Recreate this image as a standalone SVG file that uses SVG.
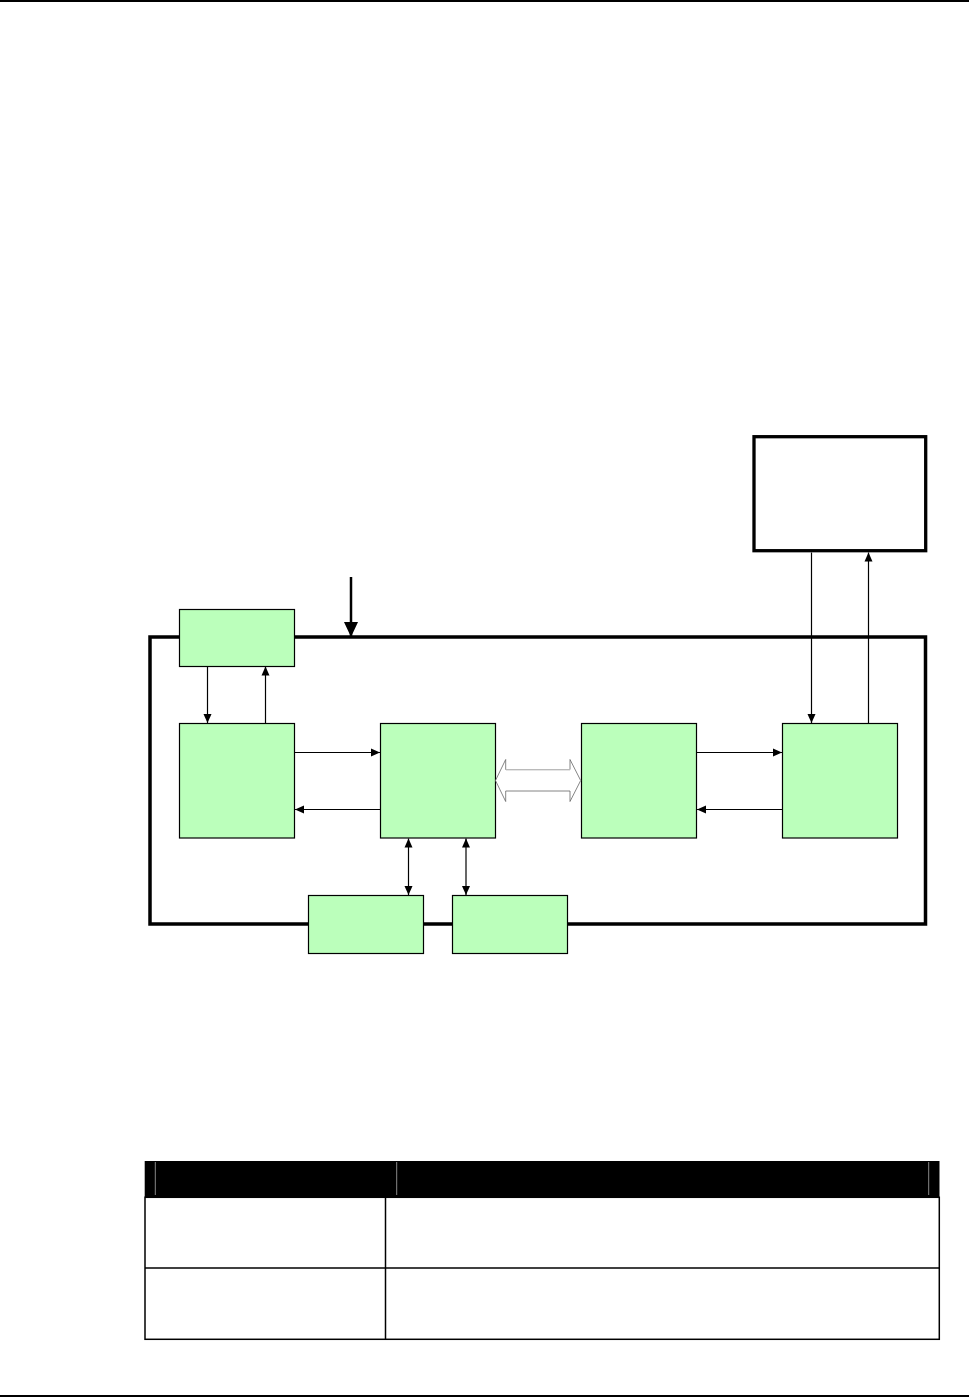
<svg xmlns="http://www.w3.org/2000/svg" width="969" height="1397" viewBox="0 0 969 1397">
<style>
.g{fill:#bbffbb;stroke:#000;stroke-width:1.2}
.c{stroke:#000;stroke-width:1.2;fill:none}
.hdr-sep{stroke:#888;stroke-width:1}
.cell{fill:none;stroke:#000;stroke-width:1.5}
</style>
<defs>
<marker id="ah" markerUnits="userSpaceOnUse" markerWidth="10" markerHeight="10" refX="9" refY="4" orient="auto-start-reverse" viewBox="0 0 10 8">
<path d="M0,0 L9,4 L0,8 Z" fill="#000"/>
</marker>
<marker id="big" markerUnits="userSpaceOnUse" markerWidth="15" markerHeight="15" refX="15" refY="7" orient="auto" viewBox="0 0 15 14">
<path d="M0,0 L15,7 L0,14 Z" fill="#000"/>
</marker>
</defs>
<rect x="0" y="0" width="969" height="2" fill="#000"/>
<rect x="0" y="1395" width="969" height="2" fill="#000"/>

<g id="frame"><rect x="150" y="637" width="775.5" height="287" fill="none" stroke="#000" stroke-width="3.5"/></g>
<g id="ext"><rect x="754" y="436.7" width="171.7" height="114" fill="#fff" stroke="#000" stroke-width="3.3"/></g>

<g id="n-top"><rect class="g" x="179.5" y="609.5" width="115" height="57"/></g>
<g id="n-a"><rect class="g" x="179.5" y="723.5" width="115" height="114.5"/></g>
<g id="n-b"><rect class="g" x="380.5" y="723.5" width="115" height="114.5"/></g>
<g id="n-c"><rect class="g" x="581.5" y="723.5" width="115" height="114.5"/></g>
<g id="n-d"><rect class="g" x="782.5" y="723.5" width="115" height="114.5"/></g>
<g id="n-e"><rect class="g" x="308.5" y="895.5" width="115" height="58"/></g>
<g id="n-f"><rect class="g" x="452.5" y="895.5" width="115" height="58"/></g>

<g id="connectors">
<line x1="351" y1="577" x2="351" y2="637" stroke="#000" stroke-width="2.5" marker-end="url(#big)"/>
<line class="c" x1="207.5" y1="666.5" x2="207.5" y2="723" marker-end="url(#ah)"/>
<line class="c" x1="265.5" y1="723" x2="265.5" y2="666.5" marker-end="url(#ah)"/>
<line class="c" x1="295" y1="752.5" x2="380" y2="752.5" marker-end="url(#ah)"/>
<line class="c" x1="380" y1="809.5" x2="295" y2="809.5" marker-end="url(#ah)"/>
<line class="c" x1="697" y1="752.5" x2="782" y2="752.5" marker-end="url(#ah)"/>
<line class="c" x1="782" y1="809.5" x2="697" y2="809.5" marker-end="url(#ah)"/>
<line class="c" x1="811.5" y1="552.5" x2="811.5" y2="723" marker-end="url(#ah)"/>
<line class="c" x1="868.5" y1="723" x2="868.5" y2="552.5" marker-end="url(#ah)"/>
<line class="c" x1="408.5" y1="838.5" x2="408.5" y2="895" marker-start="url(#ah)" marker-end="url(#ah)"/>
<line class="c" x1="466" y1="838.5" x2="466" y2="895" marker-start="url(#ah)" marker-end="url(#ah)"/>
<path d="M495.5,780.5 L505.7,759.5 L505.7,769.5 L570,769.5 L570,759.5 L580.7,780.5 L570,801.5 L570,791 L505.7,791 L505.7,801.5 Z" fill="#fff" stroke="#666" stroke-width="0.8"/>
<line x1="506" y1="769.8" x2="570" y2="769.8" stroke="#ccc" stroke-width="1.2"/>
</g>

<g id="table">
<rect x="144.7" y="1161" width="794.8" height="36.3" fill="#000"/>
<line class="hdr-sep" x1="155.3" y1="1162" x2="155.3" y2="1195"/>
<line class="hdr-sep" x1="396.7" y1="1162" x2="396.7" y2="1195"/>
<line class="hdr-sep" x1="928.7" y1="1162" x2="928.7" y2="1195"/>
<rect class="cell" x="145" y="1197.3" width="794.3" height="142"/>
<line class="cell" x1="385.5" y1="1197.3" x2="385.5" y2="1339.3"/>
<line class="cell" x1="145" y1="1268" x2="939.3" y2="1268"/>
</g>
</svg>
